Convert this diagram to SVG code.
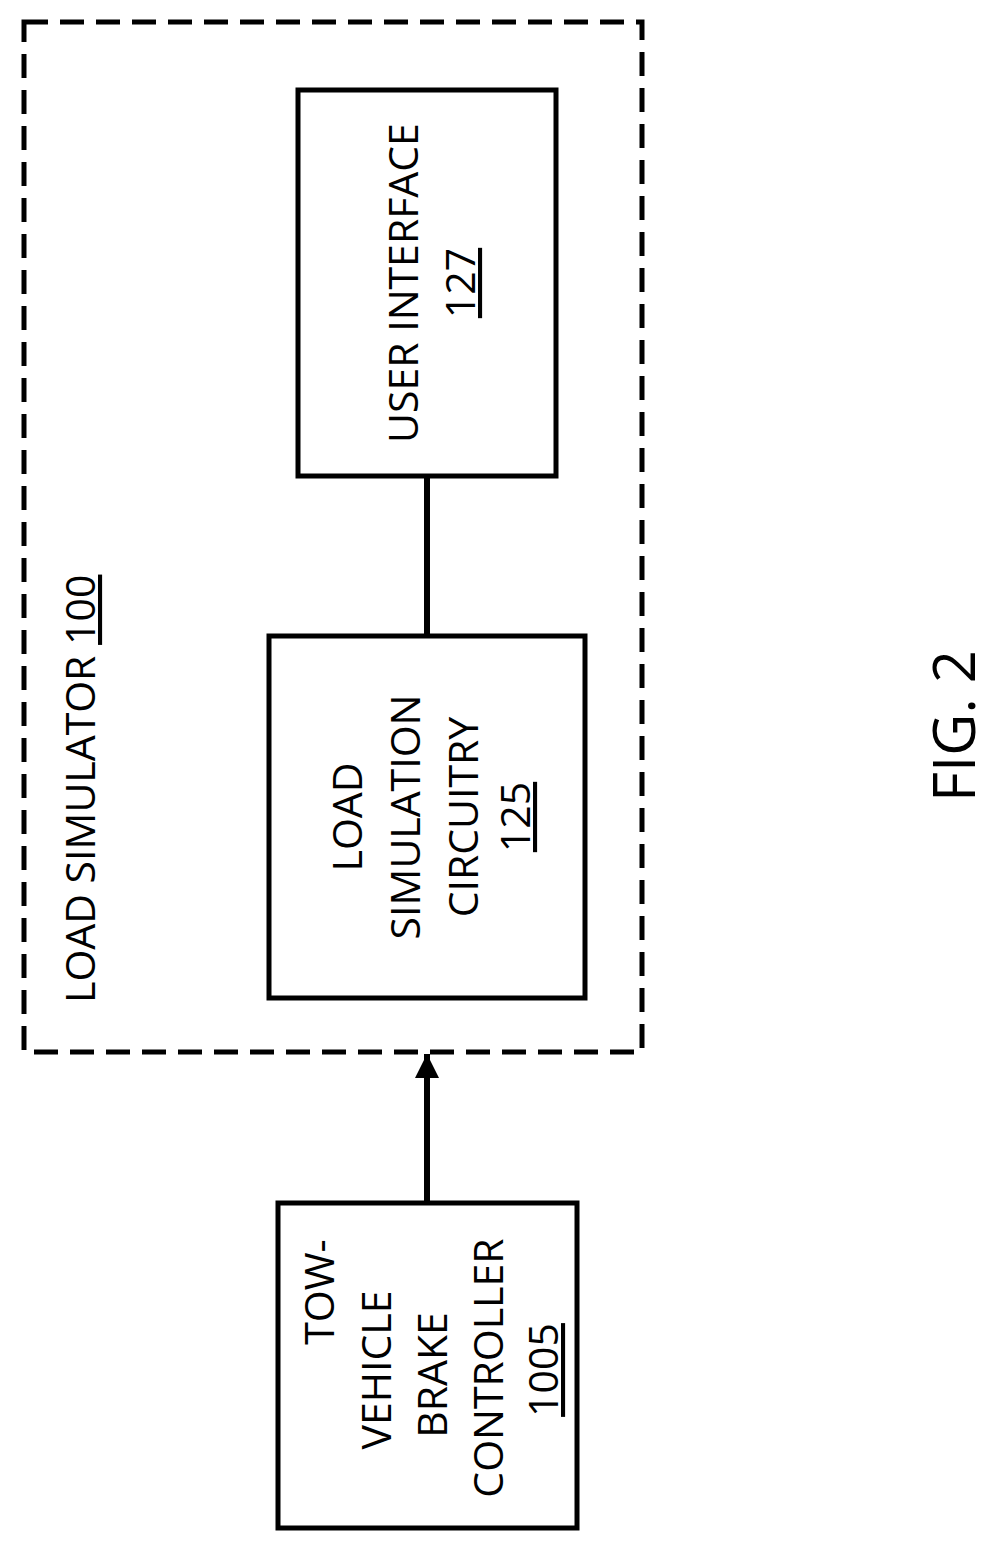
<svg xmlns="http://www.w3.org/2000/svg" width="995" height="1550" viewBox="0 0 995 1550">
<style>
.b{fill:#fff;stroke:#000;stroke-width:5}
.t{font-family:"Open Sans","Liberation Sans",sans-serif;font-size:41px;fill:#000;text-anchor:middle}
.u{text-decoration:underline}
</style>
<defs>
<marker id="a" markerWidth="24" markerHeight="28" refX="24" refY="12" orient="auto" markerUnits="userSpaceOnUse"><path d="M0,0 L24,12 L0,24 Z" fill="#000"/></marker></defs>
<g id="loadsim"><rect x="24" y="22" width="618" height="1030" fill="none" stroke="#000" stroke-width="5" stroke-dasharray="24,12"/>
<text class="t" x="95" y="1003" style="text-anchor:start" transform="rotate(-90 95 1003)">LOAD SIMULATOR <tspan class="u">100</tspan></text></g>
<g id="connectors"><line x1="427" y1="476" x2="427" y2="636" stroke="#000" stroke-width="6"/>
<line x1="427" y1="1203" x2="427" y2="1054" stroke="#000" stroke-width="6" marker-end="url(#a)"/></g>
<g id="ui"><rect class="b" x="298" y="90" width="258" height="386"/>
<text class="t" x="418" y="283" transform="rotate(-90 418 283)">USER INTERFACE</text>
<text class="t u" x="475" y="283" transform="rotate(-90 475 283)">127</text></g>
<g id="lsc"><rect class="b" x="269" y="636" width="316" height="362"/>
<text class="t" x="362" y="817" transform="rotate(-90 362 817)">LOAD</text>
<text class="t" x="420" y="817" transform="rotate(-90 420 817)">SIMULATION</text>
<text class="t" x="478" y="817" transform="rotate(-90 478 817)">CIRCUITRY</text>
<text class="t u" x="530" y="817" transform="rotate(-90 530 817)">125</text></g>
<g id="tow"><rect class="b" x="278" y="1203" width="299" height="325"/>
<text class="t" x="334" y="1292" transform="rotate(-90 334 1292)">TOW-</text>
<text class="t" x="391" y="1370" transform="rotate(-90 391 1370)">VEHICLE</text>
<text class="t" x="447" y="1375" transform="rotate(-90 447 1375)">BRAKE</text>
<text class="t" x="503" y="1368" transform="rotate(-90 503 1368)">CONTROLLER</text>
<text class="t u" x="558" y="1370" transform="rotate(-90 558 1370)">1005</text></g>
<text class="t" style="font-size:58px" x="975" y="726" transform="rotate(-90 975 726)">FIG. 2</text>
</svg>
